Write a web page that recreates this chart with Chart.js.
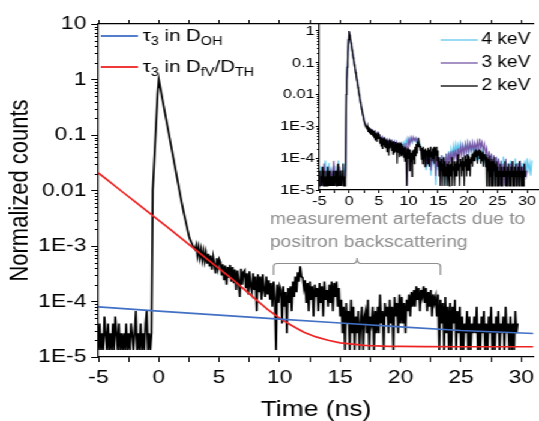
<!DOCTYPE html>
<html>
<head>
<meta charset="utf-8">
<title>Positron lifetime spectra</title>
<script src="https://cdn.jsdelivr.net/npm/chart.js@4.4.0/dist/chart.umd.min.js"></script>
<style>
  html, body { margin: 0; padding: 0; background: #fff; overflow: hidden; }
  #stage { position: relative; width: 449px; height: 421px; transform: scaleX(1.2004); transform-origin: 0 0; }
  #main { position: absolute; left: 0; top: 0; }
  #inset { position: absolute; left: 230px; top: 0; }
</style>
</head>
<body>
<div id="stage">
  <canvas id="main" width="449" height="421"></canvas>
  <canvas id="inset" width="219" height="215"></canvas>
</div>
<script>
/* ------------------------------------------------------------------ */
/*  Data                                                               */
/* ------------------------------------------------------------------ */

// Spectra are raw counts per channel, first channel at T_START (ns).
var T_START = -5.0;
var BIN_2KEV = 0.1;
var BIN_INSET = 0.2;

var counts2keV = [
  1,3,1,2,1,4,2,1,3,1, 2,1,3,1,4,2,1,3,1,2, 1,2,1,3,1,2,1,3,2,1, 2,5,1,2,1,3,1,2,1,3, 5,1,2,1,
  2,750,2000,5400,15000,40000,74600,
  57000,43500,33000,25300,19300,14700,11200,8600,6550,5000,
  3820,2920,2230,1700,1300,990,760,580,445,350,
  275,220,175,140,112,96,86,77,70,65,
  78,50,70,46,64,42,60,40,56,36,
  54,32,50,28,47,34,24,45,30,43,
  38,22,35,18,33,15,31,20,34,17,
  31,16,28,12,27,17,9,29,15,25,
  27,13,24,10,26,14,11,24,12,21,
  5,23,11,21,8,23,12,9,21,10,
  18,8,16,6,17,9,1,15,7,14,
  12,3,14,6,11,2,13,7,14,5,
  17,9,21,11,25,17,32,21,20,13,
  18,7,16,5,17,8,14,4,15,9,
  13,5,16,7,14,4,17,8,12,6,
  15,7,17,5,16,9,17,6,13,4,
  8,2,6,1,7,3,5,1,8,2,
  6,1,4,2,5,1,3,6,1,4,
  5,2,8,1,4,3,6,1,5,2,
  6,2,10,3,5,1,7,4,6,2,
  8,3,6,1,9,4,7,2,10,3,
  9,3,7,2,8,5,10,4,11,6,
  12,6,14,8,13,5,12,9,14,7,
  13,5,11,6,12,4,10,7,9,4,
  10,1,8,3,7,1,9,2,6,1,
  7,1,6,3,8,1,5,2,6,1,
  4,1,3,2,5,1,4,1,3,2,
  4,2,6,1,3,1,4,2,5,1,
  3,1,4,2,6,1,3,1,4,2,
  5,1,3,2,4,1,6,2,3,1,
  4,1,3,1,5,2,3
];

var counts3keV = [
  2,1,3,1,5,2,1,4,1,2,3,1,6,2,1,3,1,4,2,1,3,1,
  2,2100,15500,73000,
  43000,25000,14500,8500,5000,2900,1700,1000,600,365,230,150,105,84,70,
  66,52,60,46,55,42,51,40,47,38,
  38,27,34,23,31,25,29,20,28,22,
  26,17,24,15,23,16,21,13,20,14,
  18,10,22,1,28,20,33,24,34,26,
  32,25,30,20,16,10,13,6,11,4,
  11,5,13,3,10,6,12,2,9,4,
  8,1,9,3,7,2,10,4,11,5,
  12,5,13,7,14,6,15,8,17,9,
  18,10,20,11,22,12,21,13,23,12,
  22,14,24,13,30,16,23,12,20,10,
  15,6,12,4,10,3,9,2,8,3,
  7,1,6,2,5,1,7,2,4,1,
  5,2,6,1,4,2,5,1,6,2,
  4,1,5,2,3
];

var counts4keV = [
  1,4,2,1,3,6,1,2,5,1,3,2,1,4,1,2,6,1,3,1,5,2,
  3,2000,15000,71000,
  41500,24000,14000,8200,4800,2800,1650,960,570,350,220,145,100,80,68,
  62,50,57,44,52,40,49,38,45,36,
  36,26,32,22,30,24,28,19,27,21,
  25,17,23,15,22,16,20,14,21,16,
  22,16,27,20,30,24,31,22,30,25,
  29,21,30,24,18,12,14,6,12,3,
  10,4,12,2,9,5,11,1,8,3,
  7,2,9,3,8,1,10,4,12,6,
  14,8,18,10,20,12,19,11,21,13,
  18,10,20,12,21,9,19,12,20,10,
  17,8,15,6,13,7,11,4,10,5,
  9,3,8,2,10,4,7,1,8,3,
  7,2,6,1,8,3,6,2,5,1,
  6,2,5,1,7,3,5,1,6,2,
  5,1,6,2,7,3,5,2,6
];

// tau_3 components (normalized counts)
var ohTimes  = [-5, 0, 5, 10, 15, 20, 25, 31];
var ohValues = [8.0e-5, 6.7e-5, 5.7e-5, 4.8e-5, 4.1e-5, 3.5e-5, 3.0e-5, 2.65e-5];

var fvTimes  = [-5, -4, -3, -2, -1, 0, 1, 2, 3, 4, 5, 6, 7, 8, 9, 10, 11, 12, 13, 14, 15, 16, 17, 18, 19, 20, 22, 25, 31];
var fvValues = [2.07e-2, 1.40e-2, 9.4e-3, 6.4e-3, 4.3e-3, 2.9e-3, 1.95e-3, 1.3e-3, 8.7e-4, 5.8e-4,
                3.9e-4, 2.6e-4, 1.7e-4, 1.1e-4, 7.2e-5, 5.0e-5, 3.7e-5, 2.8e-5, 2.3e-5, 2.0e-5,
                1.8e-5, 1.7e-5, 1.62e-5, 1.58e-5, 1.56e-5, 1.55e-5, 1.54e-5, 1.53e-5, 1.53e-5];

var yMajorTicks = [1e-5, 1e-4, 1e-3, 0.01, 0.1, 1, 10];
var yTickLabels = ["1E-5", "1E-4", "1E-3", "0.01", "0.1", "1", "10"];
var insetYTicks = [1e-5, 1e-4, 1e-3, 0.01, 0.1, 1];
var insetYLabels = ["1E-5", "1E-4", "1E-3", "0.01", "0.1", "1"];

var insetNames = ["4 keV", "3 keV", "2 keV"];
var noteLines = ["measurement artefacts due to", "positron backscattering"];
var artefactSpan = [9.5, 16.4, 23.3];   // ns: left end, tip, right end

/* ------------------------------------------------------------------ */
/*  Style                                                              */
/* ------------------------------------------------------------------ */

var FONT = '"Liberation Sans", Arial, sans-serif';
var C = {
  oh: "#4170c4",
  fv: "#ee2424",
  k4: "#5fc9ef",
  k3: "#7657a6",
  k2: "#000000",
  note: "#8e8e8e",
};

Chart.defaults.font.family = FONT;
Chart.defaults.color = "#000";

/* ------------------------------------------------------------------ */
/*  Helpers                                                            */
/* ------------------------------------------------------------------ */

function spectrum(counts, bin) {
  var peak = Math.max.apply(null, counts);
  return counts.map(function (c, i) {
    return { x: Math.round((T_START + i * bin) * 100) / 100, y: c / peak };
  });
}

function zip(xs, ys) {
  return xs.map(function (x, i) { return { x: x, y: ys[i] }; });
}

function line(label, data, color, width) {
  return { label: label, data: data, borderColor: color, borderWidth: width,
           pointRadius: 0, fill: false, tension: 0 };
}

function drawLogMinorTicks(chart, scale, len) {
  var ctx = chart.ctx;
  var x0 = chart.chartArea.left;
  var lo = Math.round(Math.log10(scale.min)), hi = Math.log10(scale.max);
  ctx.save();
  ctx.strokeStyle = "#000";
  ctx.lineWidth = 1;
  ctx.beginPath();
  for (var e = lo; e < hi; e++) {
    for (var m = 2; m <= 9; m++) {
      var v = m * Math.pow(10, e);
      if (v > scale.max) break;
      var py = Math.round(scale.getPixelForValue(v)) + 0.5;
      ctx.moveTo(x0 - len, py);
      ctx.lineTo(x0, py);
    }
  }
  ctx.stroke();
  ctx.restore();
}

// text runs with subscripts: [text, isSub]
function drawRich(ctx, x, y, runs, size) {
  runs.forEach(function (r) {
    var sub = r[1];
    ctx.font = (sub ? Math.round(size * 0.7) : size) + "px " + FONT;
    ctx.fillText(r[0], x, sub ? y + size * 0.32 : y);
    x += ctx.measureText(r[0]).width;
  });
}

function logAxis(min, max, ticks, labels, font, tickLen, pad, width) {
  return {
    type: "logarithmic",
    min: min,
    max: max,
    afterBuildTicks: function (s) {
      s.ticks = ticks.map(function (v) { return { value: v }; });
    },
    afterFit: function (s) { s.width = width; },
    ticks: {
      autoSkip: false,
      padding: pad,
      font: { size: font },
      callback: function (v) {
        var i = ticks.indexOf(v);
        return i < 0 ? "" : labels[i];
      },
    },
    grid: { drawOnChartArea: false, color: "#000", tickLength: tickLen },
    border: { color: "#000", width: 1.2 },
  };
}

function timeAxis(max, font, tickLen, pad, height) {
  return {
    type: "linear",
    position: "bottom",
    min: -5,
    max: max,
    afterFit: function (s) { s.height = height; },
    ticks: {
      stepSize: 2.5,
      includeBounds: false,
      autoSkip: false,
      maxRotation: 0,
      padding: pad,
      font: { size: font },
      callback: function (v) { return v % 5 === 0 ? String(v) : ""; },
    },
    grid: { drawOnChartArea: false, color: "#000", tickLength: tickLen },
    border: { color: "#000", width: 1.2 },
  };
}

/* ------------------------------------------------------------------ */
/*  Main plot                                                          */
/* ------------------------------------------------------------------ */

var mainDecor = {
  id: "mainDecor",
  afterDraw: function (chart) {
    var ctx = chart.ctx, a = chart.chartArea;
    var xs = chart.scales.x, ys = chart.scales.y;
    drawLogMinorTicks(chart, ys, 3);

    // legend
    var rows = [
      { color: C.oh, y: 36, runs: [["\u03c4", 0], ["3", 1], [" in D", 0], ["OH", 1]] },
      { color: C.fv, y: 67, runs: [["\u03c4", 0], ["3", 1], [" in D", 0], ["fV", 1], ["/D", 0], ["TH", 1]] },
    ];
    ctx.save();
    ctx.textBaseline = "middle";
    ctx.fillStyle = "#000";
    rows.forEach(function (r) {
      ctx.strokeStyle = r.color;
      ctx.lineWidth = 1.8;
      ctx.beginPath();
      ctx.moveTo(a.left + 2, r.y);
      ctx.lineTo(a.left + 33, r.y);
      ctx.stroke();
      drawRich(ctx, a.left + 37, r.y, r.runs, 17);
    });

    // artefact note and bracket
    ctx.fillStyle = C.note;
    ctx.font = "16px " + FONT;
    ctx.textAlign = "left";
    var tx = xs.getPixelForValue(9.2);
    ctx.fillText(noteLines[0], tx, 220);
    ctx.fillText(noteLines[1], tx, 243);

    var xl = xs.getPixelForValue(artefactSpan[0]);
    var xc = xs.getPixelForValue(artefactSpan[1]);
    var xr = xs.getPixelForValue(artefactSpan[2]);
    var yb = 263.5, ye = 275, yt = 258, r = 3;
    ctx.strokeStyle = C.note;
    ctx.lineWidth = 1.2;
    ctx.beginPath();
    ctx.moveTo(xl, ye);
    ctx.lineTo(xl, yb + r);
    ctx.quadraticCurveTo(xl, yb, xl + r, yb);
    ctx.lineTo(xc - r, yb);
    ctx.quadraticCurveTo(xc, yb, xc, yt);
    ctx.quadraticCurveTo(xc, yb, xc + r, yb);
    ctx.lineTo(xr - r, yb);
    ctx.quadraticCurveTo(xr, yb, xr, yb + r);
    ctx.lineTo(xr, ye);
    ctx.stroke();
    ctx.restore();
  },
};

var mainX = timeAxis(31, 19, 5, 4, 64);
mainX.title = { display: true, text: "Time (ns)", font: { size: 22, lineHeight: 1 }, padding: { top: 0, bottom: 0 } };

var mainY = logAxis(1e-5, 10, yMajorTicks, yTickLabels, 19, 6, 4, 82);
mainY.title = { display: true, text: "Normalized counts", font: { size: 22, lineHeight: 1 }, padding: { top: 6, bottom: 0 } };

new Chart(document.getElementById("main"), {
  type: "line",
  data: {
    datasets: [
      line("\u03c43 in DOH", zip(ohTimes, ohValues), C.oh, 1.7),
      line("\u03c43 in DfV/DTH", zip(fvTimes, fvValues), C.fv, 1.7),
      line("2 keV", spectrum(counts2keV, BIN_2KEV), C.k2, 1.7),
    ],
  },
  options: {
    responsive: false,
    animation: false,
    layout: { padding: { top: 20, right: 0, bottom: 0, left: 0 } },
    plugins: { legend: { display: false }, tooltip: { enabled: false } },
    scales: {
      x: mainX,
      xTop: {
        type: "linear",
        position: "top",
        min: -5,
        max: 31,
        afterFit: function (s) { s.height = 4; },
        ticks: { display: false, stepSize: 2.5, includeBounds: false, autoSkip: false },
        grid: { drawOnChartArea: false, color: "#000", tickLength: 4 },
        border: { color: "#000", width: 1.2 },
      },
      y: mainY,
    },
  },
  plugins: [mainDecor],
});

/* ------------------------------------------------------------------ */
/*  Inset: energy dependence                                           */
/* ------------------------------------------------------------------ */

var insetDecor = {
  id: "insetDecor",
  afterDraw: function (chart) {
    var ctx = chart.ctx;
    drawLogMinorTicks(chart, chart.scales.y, 2);
    var colors = [C.k4, C.k3, C.k2];
    var rowsY = [40, 63, 86];
    ctx.save();
    ctx.textBaseline = "middle";
    ctx.fillStyle = "#000";
    ctx.font = "16px " + FONT;
    insetNames.forEach(function (name, i) {
      ctx.strokeStyle = colors[i];
      ctx.lineWidth = 1.3;
      ctx.beginPath();
      ctx.moveTo(137, rowsY[i]);
      ctx.lineTo(168, rowsY[i]);
      ctx.stroke();
      ctx.fillText(name, 171, rowsY[i]);
    });
    ctx.restore();
  },
};

new Chart(document.getElementById("inset"), {
  type: "line",
  data: {
    datasets: [
      line("2 keV", spectrum(counts2keV, BIN_2KEV), C.k2, 1.1),
      line("3 keV", spectrum(counts3keV, BIN_INSET), C.k3, 1.1),
      line("4 keV", spectrum(counts4keV, BIN_INSET), C.k4, 1.1),
    ],
  },
  options: {
    responsive: false,
    animation: false,
    layout: { padding: { top: 24, right: 0, bottom: 0, left: 0 } },
    plugins: { legend: { display: false }, tooltip: { enabled: false } },
    scales: {
      x: timeAxis(32, 13.5, 3, 0, 25),
      y: logAxis(1e-5, 1.66, insetYTicks, insetYLabels, 13.5, 3, 1, 36),
    },
  },
  plugins: [insetDecor],
});
</script>
</body>
</html>
